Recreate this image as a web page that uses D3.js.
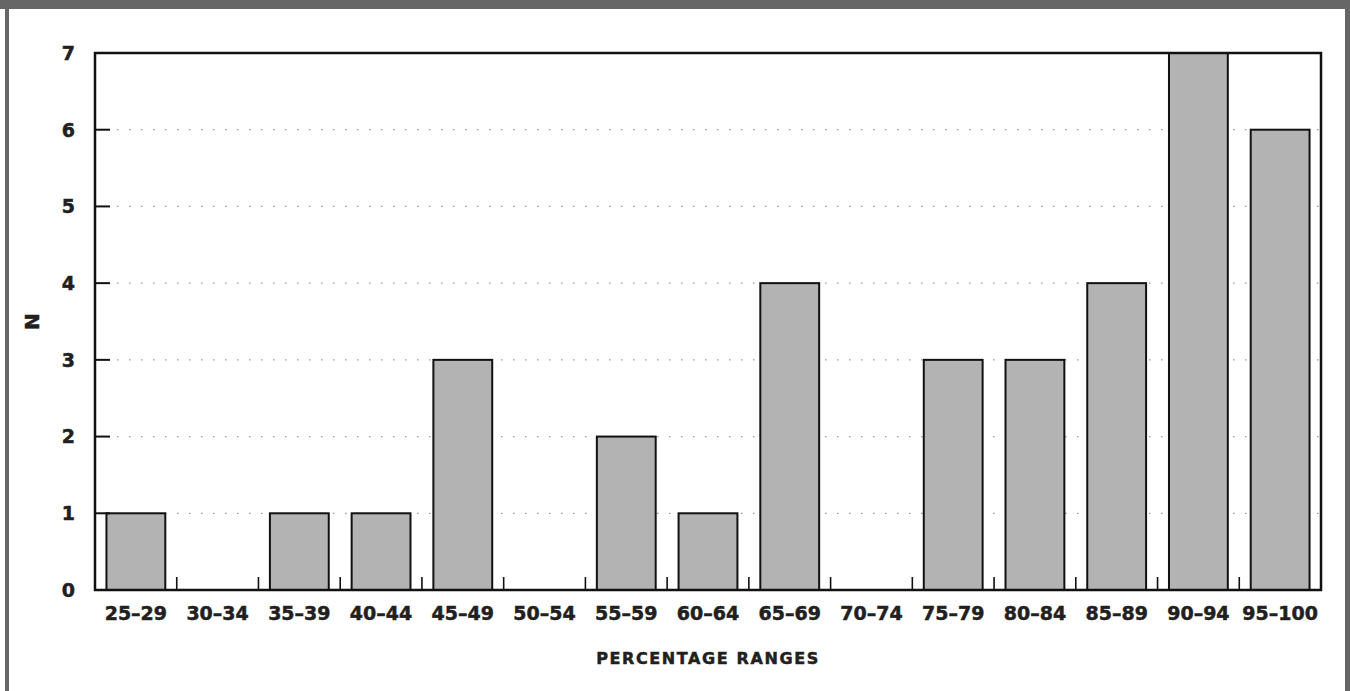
<!DOCTYPE html>
<html><head><meta charset="utf-8">
<script src="https://cdn.jsdelivr.net/npm/d3@7"></script>
<style>
html,body{margin:0;padding:0;background:#fff;}
svg{display:block;}
text{font-family:"DejaVu Sans",sans-serif;font-weight:bold;fill:#231f20;stroke:#231f20;stroke-width:0.5px;}
</style></head><body>
<svg id="chart" width="1350" height="691"></svg>
<script>
const categories = ["25–29","30–34","35–39","40–44","45–49","50–54","55–59","60–64","65–69","70–74","75–79","80–84","85–89","90–94","95–100"];
const counts = [1,0,1,1,3,0,2,1,4,0,3,3,4,7,6];
const yTicks = [0,1,2,3,4,5,6,7];
const xTitle = "PERCENTAGE RANGES";
const yTitle = "N";

const svg = d3.select("#chart");
const W = 1350, H = 691;
const m = {left:95, right:29, top:53, bottom:101};
const x0 = m.left, x1 = W - m.right, y0 = H - m.bottom, y1 = m.top;

// frame
svg.append("rect").attr("x",0).attr("y",0).attr("width",W).attr("height",9).attr("fill","#666");
svg.append("rect").attr("x",5).attr("y",0).attr("width",4).attr("height",H).attr("fill","#666");
svg.append("rect").attr("x",1345).attr("y",0).attr("width",5).attr("height",H).attr("fill","#666");

const x = d3.scaleBand().domain(categories).range([x0,x1]).paddingInner(0.28).paddingOuter(0.14);
const xb = d3.scaleLinear().domain([0,categories.length]).range([x0,x1]);
const y = d3.scaleLinear().domain([0,7]).range([y0,y1]);

// gridlines
svg.append("g").selectAll("line").data(yTicks.filter(d=>d>0)).join("line")
  .attr("x1",x0+22).attr("x2",x1).attr("y1",d=>y(d)).attr("y2",d=>y(d))
  .attr("stroke","#999").attr("stroke-width",1.2).attr("stroke-dasharray","1.5 10.5");

// bars
svg.append("g").selectAll("rect").data(categories).join("rect")
  .attr("x",d=>x(d)).attr("width",x.bandwidth())
  .attr("y",(d,i)=>y(counts[i])).attr("height",(d,i)=>y(0)-y(counts[i]))
  .attr("fill","#b3b3b3").attr("stroke","#111").attr("stroke-width",2);

// x boundary ticks (inside)
svg.append("g").selectAll("line").data(d3.range(1,categories.length)).join("line")
  .attr("x1",d=>xb(d)).attr("x2",d=>xb(d)).attr("y1",y0).attr("y2",y0-13)
  .attr("stroke","#111").attr("stroke-width",1.6);

// y ticks (inside)
svg.append("g").selectAll("line").data(yTicks.filter(d=>d>0&&d<7)).join("line")
  .attr("x1",x0).attr("x2",x0+15).attr("y1",d=>y(d)).attr("y2",d=>y(d))
  .attr("stroke","#111").attr("stroke-width",2);

// frame of plot
svg.append("rect").attr("x",x0).attr("y",y1).attr("width",x1-x0).attr("height",y0-y1)
  .attr("fill","none").attr("stroke","#111").attr("stroke-width",2.5);

// y labels
svg.append("g").selectAll("text").data(yTicks).join("text")
  .attr("x",75).attr("y",d=>y(d)).attr("dy","0.36em").attr("text-anchor","end")
  .attr("font-size",19).text(d=>d);

// x labels
svg.append("g").selectAll("text").data(categories).join("text")
  .attr("x",d=>x(d)+x.bandwidth()/2).attr("y",613).attr("dy","0.36em").attr("text-anchor","middle")
  .attr("font-size",19).text(d=>d);

svg.append("text").attr("x",(x0+x1)/2).attr("y",658).attr("dy","0.36em").attr("text-anchor","middle")
  .attr("font-size",16).attr("letter-spacing","1.6px").text(xTitle);

svg.append("text").attr("transform",`translate(32,${(y0+y1)/2}) rotate(-90)`).attr("dy","0.36em")
  .attr("text-anchor","middle").attr("font-size",20).text(yTitle);
</script>
</body></html>
